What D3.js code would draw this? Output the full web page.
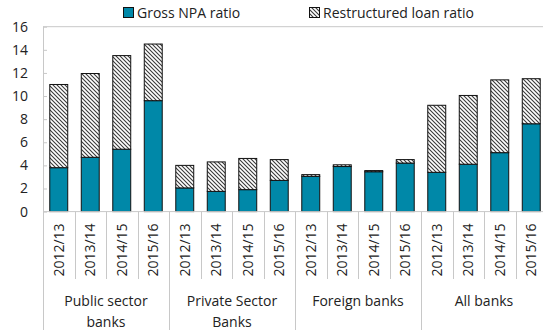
<!DOCTYPE html>
<html><head><meta charset="utf-8">
<script src="https://cdn.jsdelivr.net/npm/d3@7"></script>
<style>
html,body{margin:0;padding:0;background:#fff;}
svg{display:block;font-family:"Open Sans","Noto Sans",sans-serif;}
</style></head>
<body><svg id="c" width="543" height="330"></svg>
<script>
const groups = ["Public sector banks","Private Sector Banks","Foreign banks","All banks"];
const groupLines = [["Public sector","banks"],["Private Sector","Banks"],["Foreign banks"],["All banks"]];
const years = ["2012/13","2013/14","2014/15","2015/16"];
const grossNPA = [3.8,4.7,5.4,9.6, 2.05,1.75,1.9,2.7, 3.05,3.9,3.45,4.2, 3.4,4.1,5.1,7.6];
const restructured = [7.2,7.25,8.1,4.9, 1.95,2.55,2.7,1.8, 0.15,0.15,0.1,0.3, 5.8,5.95,6.3,3.9];
const yTicks = [0,2,4,6,8,10,12,14,16];
const seriesNames = ["Gross NPA ratio","Restructured loan ratio"];

const svg = d3.select("#c");
const defs = svg.append("defs");
const pat = defs.append("pattern").attr("id","hatch").attr("patternUnits","userSpaceOnUse")
  .attr("width",4).attr("height",4);
pat.append("rect").attr("width",4).attr("height",4).attr("fill","#fff");
pat.append("path").attr("d","M-1,-1 L5,5 M-1,3 L1,5 M3,-1 L5,1")
  .attr("stroke","#3a3a3a").attr("stroke-width",1.1);

const teal = "#0088a8";
const left = 43, plotTop = 26.7, base = 211.6;
const slot = 31.5;
const rows = [];
groups.forEach((g,gi)=>years.forEach((y,yi)=>{
  const i = gi*4+yi;
  rows.push({key:g+"|"+y, group:g, year:y, npa:grossNPA[i], restr:restructured[i]});
}));

const x = d3.scaleBand().domain(rows.map(d=>d.key)).range([left, left+slot*rows.length])
  .paddingInner(0.43).paddingOuter(0.215);
const y = d3.scaleLinear().domain([0,16]).range([base, plotTop]);

// frame lines
svg.append("line").attr("x1",left).attr("x2",560).attr("y1",y(16)).attr("y2",y(16))
  .attr("stroke","#c8c8c8").attr("stroke-width",1);

// y axis
const yAxis = d3.axisLeft(y).tickValues(yTicks).tickSize(-4).tickPadding(15);
const ya = svg.append("g").attr("transform",`translate(${left},0)`).call(yAxis);
ya.select(".domain").remove();
ya.selectAll(".tick line").attr("stroke","#c8c8c8");
ya.selectAll(".tick text").attr("font-size",14).attr("fill","#222").attr("font-family","'Open Sans',sans-serif");

// bars
const stack = d3.stack().keys(["npa","restr"]);
const stacked = stack(rows);
const fills = [teal,"url(#hatch)"];
stacked.forEach((s,si)=>{
  svg.append("g").selectAll("rect").data(s).join("rect")
    .attr("x",d=>x(d.data.key)).attr("width",x.bandwidth())
    .attr("y",d=>y(d[1])).attr("height",d=>y(d[0])-y(d[1]))
    .attr("fill",fills[si]).attr("stroke","#111").attr("stroke-width",1);
});

// x axis baseline and category ticks
svg.append("line").attr("x1",left).attr("x2",560).attr("y1",base).attr("y2",base)
  .attr("stroke","#c8c8c8");
const step = x.step();
const x0 = x.range()[0];
for (let i=0;i<=rows.length;i++){
  const xx = Math.round(x0 + i*step)+0.5;
  const isGroup = i%4===0;
  svg.append("line").attr("x1",xx).attr("x2",xx).attr("y1",i===0?plotTop:base).attr("y2",isGroup?330:279)
    .attr("stroke","#c8c8c8");
}
// year labels
svg.append("g").selectAll("text").data(rows).join("text")
  .attr("transform",d=>`translate(${x(d.key)+x.bandwidth()/2+5},250) rotate(-90)`)
  .attr("text-anchor","middle").attr("font-size",14).attr("fill","#222")
  .text(d=>d.year);
// group labels
groups.forEach((g,gi)=>{
  const cx = x0 + (gi*4+2)*step;
  groupLines[gi].forEach((ln,li)=>{
    svg.append("text").attr("x",cx).attr("y",306+li*21).attr("text-anchor","middle")
      .attr("font-size",14).attr("fill","#222").text(ln);
  });
});

// legend
const leg = [{x:123, fill:teal, name:seriesNames[0]},{x:309, fill:"url(#hatch)", name:seriesNames[1]}];
leg.forEach(l=>{
  svg.append("rect").attr("x",l.x+0.5).attr("y",7.5).attr("width",10).attr("height",10)
    .attr("fill",l.fill).attr("stroke","#111");
  svg.append("text").attr("x",l.x+14).attr("y",17.5).attr("font-size",14).attr("fill","#222").text(l.name);
});
</script></body></html>
